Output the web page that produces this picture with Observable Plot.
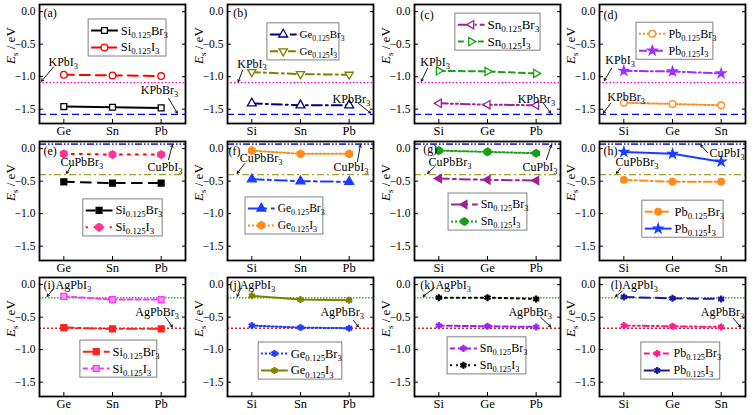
<!DOCTYPE html>
<html><head><meta charset="utf-8">
<script src="https://cdn.jsdelivr.net/npm/d3@7"></script>
<script src="https://cdn.jsdelivr.net/npm/@observablehq/plot@0.6"></script>
<style>
body{margin:0;background:#fff;}
#chart{position:relative;width:756px;height:415px;overflow:hidden;background:#fff;}
#chart svg{position:absolute;overflow:visible;font-family:"Liberation Serif","Times New Roman",serif !important;}
#chart svg text{font-family:"Liberation Serif","Times New Roman",serif !important;}
</style></head><body><div id="chart"></div>
<script>
// ---------- data ----------
const catsCol = [["Ge","Sn","Pb"],["Si","Sn","Pb"],["Si","Ge","Pb"],["Si","Ge","Sn"]];
const yTicks = [0, -0.5, -1.0, -1.5];
const refNames = [["KPbI_{3}","KPbBr_{3}"],["CuPbI_{3}","CuPbBr_{3}"],["AgPbI_{3}","AgPbBr_{3}"]];
const refValues = [[-1.09,-1.58],[0.07,-0.40],[-0.20,-0.67]];

const a_SiBr3 = [-1.46,-1.47,-1.48], a_SiI3 = [-0.97,-0.98,-0.99];
const b_GeBr3 = [-1.41,-1.44,-1.44], b_GeI3 = [-0.93,-0.96,-0.97];
const c_SnBr3 = [-1.41,-1.43,-1.44], c_SnI3 = [-0.91,-0.92,-0.95];
const d_PbBr3 = [-1.40,-1.42,-1.44], d_PbI3 = [-0.91,-0.92,-0.95];
const e_SiBr3 = [-0.51,-0.53,-0.53], e_SiI3 = [-0.08,-0.09,-0.09];
const f_GeBr3 = [-0.47,-0.50,-0.51], f_GeI3 = [-0.03,-0.08,-0.08];
const g_SnBr3 = [-0.46,-0.48,-0.49], g_SnI3 = [-0.03,-0.05,-0.07];
const h_PbBr3 = [-0.48,-0.51,-0.51], h_PbI3 = [-0.05,-0.08,-0.20];
const i_SiBr3 = [-0.66,-0.68,-0.68], i_SiI3 = [-0.18,-0.23,-0.23];
const j_GeBr3 = [-0.63,-0.66,-0.67], j_GeI3 = [-0.17,-0.23,-0.24];
const k_SnBr3 = [-0.63,-0.64,-0.65], k_SnI3 = [-0.20,-0.20,-0.22];
const l_PbBr3 = [-0.63,-0.64,-0.65], l_PbI3 = [-0.19,-0.21,-0.22];

// ---------- custom symbols ----------
const triDown = {draw(c, s){const r=Math.sqrt(s/Math.PI)*1.25; c.moveTo(-r,-r*0.6); c.lineTo(r,-r*0.6); c.lineTo(0,r*1.1); c.closePath();}};
const triLeft = {draw(c, s){const r=Math.sqrt(s/Math.PI)*1.25; c.moveTo(r*0.6,-r); c.lineTo(r*0.6,r); c.lineTo(-r*1.1,0); c.closePath();}};
const triRight = {draw(c, s){const r=Math.sqrt(s/Math.PI)*1.25; c.moveTo(-r*0.6,-r); c.lineTo(-r*0.6,r); c.lineTo(r*1.1,0); c.closePath();}};

// ---------- styles ----------
const refStyle = [
  [{stroke:"#FF00FF", dash:"1.5,2", w:1.3},{stroke:"#0000FF", dash:"7,4", w:1.3}],
  [{stroke:"#3535C8", dash:"7,2,1.5,2,1.5,2", w:1.6},{stroke:"#A0A030", dash:"7,3,2,3", w:1.4}],
  [{stroke:"#2DB82D", dash:"1.5,1.5", w:1.5},{stroke:"#D02020", dash:"2,2", w:1.4}]
];
const S = (name, values, c, dash, sym, fill, mc) => ({name, values, c, dash, sym, fill, mc: mc || c});
const panels = [
  {row:0,col:0,lab:"(a)",lx:-0.42,ly:-0.03,
   series:[S("Si_{0.125}Br_{3}",a_SiBr3,"#000000",null,"square","white"),S("Si_{0.125}I_{3}",a_SiI3,"#FF0000","10,6","circle","white")],
   legend:{x:0.51,y:-0.12,w:1.60,fs:12.5},
   ann:[{t:refNames[0][0],x:-0.315,y:-0.78,a:[-0.21,-0.85,-0.46,-1.07]},{t:refNames[0][1],x:1.58,y:-1.21,a:[2.15,-1.33,2.33,-1.56]}]},
  {row:0,col:1,lab:"(b)",lx:-0.38,ly:-0.03,
   series:[S("Ge_{0.125}Br_{3}",b_GeBr3,"#000080","10,4,2,4","triangle","white"),S("Ge_{0.125}I_{3}",b_GeI3,"#808000","8,4,2,4",triDown,"white")],
   legend:{x:0.32,y:-0.18,w:1.48,fs:11},
   ann:[{t:refNames[0][0],x:-0.30,y:-0.80,a:[-0.19,-0.90,-0.28,-1.08]},{t:refNames[0][1],x:1.66,y:-1.35,a:[2.19,-1.41,2.44,-1.56]}]},
  {row:0,col:2,lab:"(c)",lx:-0.38,ly:-0.06,
   series:[S("Sn_{0.125}Br_{3}",c_SnBr3,"#A0209A","9,3,2,3,2,3",triLeft,"white"),S("Sn_{0.125}I_{3}",c_SnI3,"#16A016","6,4",triRight,"white")],
   legend:{x:0.34,y:-0.03,w:1.75,fs:13},
   ann:[{t:refNames[0][0],x:-0.38,y:-0.78,a:[-0.23,-0.87,-0.36,-1.07]},{t:refNames[0][1],x:1.62,y:-1.34,a:[2.15,-1.41,2.30,-1.56]}]},
  {row:0,col:3,lab:"(d)",lx:-0.42,ly:-0.06,
   series:[S("Pb_{0.125}Br_{3}",d_PbBr3,"#FF8C1A","2,2","circle","white"),S("Pb_{0.125}I_{3}",d_PbI3,"#9B30FF","8,3,2,3","star","#9B30FF")],
   legend:{x:0.26,y:-0.17,w:1.58,fs:12},
   ann:[{t:refNames[0][0],x:-0.38,y:-0.75,a:[-0.25,-0.87,-0.40,-1.06]},{t:refNames[0][1],x:-0.34,y:-1.32,a:[-0.27,-1.41,-0.42,-1.56]}]},
  {row:1,col:0,lab:"(e)",lx:-0.42,ly:-0.04,
   series:[S("Si_{0.125}Br_{3}",e_SiBr3,"#000000","10,7","square","#000000"),S("Si_{0.125}I_{3}",e_SiI3,"#FF0000","2,6","hexagon","#FF3399","#FF3399")],
   legend:{x:0.40,y:-0.78,w:1.63,fs:12.5},
   ann:[{t:refNames[1][1],x:-0.07,y:-0.21,a:[0.14,-0.27,0.06,-0.38]},{t:refNames[1][0],x:1.72,y:-0.29,a:[2.15,-0.17,2.23,0.055]}]},
  {row:1,col:1,lab:"(f)",lx:-0.48,ly:-0.04,
   series:[S("Ge_{0.125}Br_{3}",f_GeBr3,"#1E3CFF","12,4,3,4","triangle","#1E3CFF"),S("Ge_{0.125}I_{3}",f_GeI3,"#FF8C1A","2,2","hexagon","#FF8C1A")],
   legend:{x:-0.13,y:-0.75,w:1.60,fs:11.5},
   ann:[{t:refNames[1][1],x:-0.25,y:-0.15,a:[-0.15,-0.23,-0.30,-0.38]},{t:refNames[1][0],x:1.68,y:-0.29,a:[2.17,-0.20,2.23,0.055]}]},
  {row:1,col:2,lab:"(g)",lx:-0.32,ly:-0.01,
   series:[S("Sn_{0.125}Br_{3}",g_SnBr3,"#A0209A","10,4,3,4",triLeft,"#A0209A"),S("Sn_{0.125}I_{3}",g_SnI3,"#16A016","2,2","hexagon","#16A016")],
   legend:{x:0.20,y:-0.69,w:1.62,fs:12},
   ann:[{t:refNames[1][1],x:-0.21,y:-0.215,a:[-0.09,-0.28,-0.23,-0.38]},{t:refNames[1][0],x:1.72,y:-0.29,a:[2.21,-0.17,2.31,0.055]}]},
  {row:1,col:3,lab:"(h)",lx:-0.42,ly:-0.04,
   series:[S("Pb_{0.125}Br_{3}",h_PbBr3,"#FF8C1A","8,3,2,3","circle","#FF8C1A"),S("Pb_{0.125}I_{3}",h_PbI3,"#1E3CFF",null,"star","#1E3CFF")],
   legend:{x:0.38,y:-0.80,w:1.67,fs:12.5},
   ann:[{t:refNames[1][1],x:-0.17,y:-0.21,a:[-0.07,-0.30,-0.15,-0.38]},{t:refNames[1][0],x:1.76,y:-0.075,a:[1.72,-0.06,1.58,0.055]}]},
  {row:2,col:0,lab:"(i)",lx:-0.42,ly:-0.015,
   series:[S("Si_{0.125}Br_{3}",i_SiBr3,"#FF2020","10,4,3,4","square","#FF2020"),S("Si_{0.125}I_{3}",i_SiI3,"#FF33FF","5,3","square","#FF99FF")],
   legend:{x:0.34,y:-0.86,w:1.58,fs:12.5},
   ann:[{t:refNames[2][0],x:-0.17,y:-0.015,a:[-0.23,-0.075,-0.34,-0.18]},{t:refNames[2][1],x:1.47,y:-0.43,a:[2.09,-0.50,2.23,-0.65]}]},
  {row:2,col:1,lab:"(j)",lx:-0.46,ly:-0.015,
   series:[S("Ge_{0.125}Br_{3}",j_GeBr3,"#1E3CFF","2,2","asterisk","none"),S("Ge_{0.125}I_{3}",j_GeI3,"#808000",null,"asterisk","none")],
   legend:{x:0.14,y:-0.89,w:1.72,fs:12.5},
   ann:[{t:refNames[2][0],x:-0.25,y:-0.015,a:[-0.23,-0.06,-0.30,-0.18]},{t:refNames[2][1],x:1.41,y:-0.43,a:[2.09,-0.55,2.19,-0.65]}]},
  {row:2,col:2,lab:"(k)",lx:-0.38,ly:-0.015,
   series:[S("Sn_{0.125}Br_{3}",k_SnBr3,"#A020F0","5,3","asterisk","none"),S("Sn_{0.125}I_{3}",k_SnI3,"#000000","2,4","asterisk","none")],
   legend:{x:0.18,y:-0.81,w:1.62,fs:12},
   ann:[{t:refNames[2][0],x:-0.07,y:-0.015,a:[-0.09,-0.045,-0.32,-0.18]},{t:refNames[2][1],x:1.43,y:-0.43,a:[2.09,-0.50,2.30,-0.65]}]},
  {row:2,col:3,lab:"(l)",lx:-0.27,ly:-0.015,
   series:[S("Pb_{0.125}Br_{3}",l_PbBr3,"#FF1A8C","6,3,2,3,2,3","asterisk","none"),S("Pb_{0.125}I_{3}",l_PbI3,"#1A1A99","10,6","asterisk","none")],
   legend:{x:0.36,y:-0.89,w:1.62,fs:12},
   ann:[{t:refNames[2][0],x:-0.03,y:-0.015,a:[-0.03,-0.10,-0.17,-0.18]},{t:refNames[2][1],x:1.58,y:-0.43,a:[2.25,-0.52,2.40,-0.65]}]}
];

// ---------- layout ----------
const frameLeft = [39, 227, 414, 599], frameTop = [4, 140.5, 277];
const FW = 146, FH = 119, ML = 44, MR = 14, MT = 6, MB = 18;
const FONT = "Liberation Serif, Times New Roman, serif";
const fmt = d => (d < 0 ? "\u2212" : "") + Math.abs(d).toFixed(1);

function richify(svg){
  svg.querySelectorAll("text").forEach(t => {
    const s = t.textContent;
    if (!/[_*]\{/.test(s)) return;
    t.textContent = "";
    const parts = s.split(/([_*]\{[^}]*\})/).filter(p => p);
    let shifted = false;
    for (const p of parts) {
      const ts = document.createElementNS("http://www.w3.org/2000/svg", "tspan");
      if (p.startsWith("_{")) {
        ts.textContent = p.slice(2, -1);
        ts.setAttribute("font-size", "70%");
        if (!shifted) { ts.setAttribute("dy", "0.35em"); shifted = true; }
      } else {
        if (p.startsWith("*{")) { ts.textContent = p.slice(2, -1); ts.setAttribute("font-style", "italic"); }
        else ts.textContent = p;
        if (shifted) { ts.setAttribute("dy", "-0.245em"); shifted = false; }
      }
      t.appendChild(ts);
    }
  });
}

const chart = document.getElementById("chart");
for (const p of panels) {
  const cats = catsCol[p.col];
  const marks = [];
  refValues[p.row].forEach((v, k) => {
    const st = refStyle[p.row][k];
    marks.push(Plot.ruleY([v], {stroke: st.stroke, strokeDasharray: st.dash, strokeWidth: st.w}));
  });
  const rOf = s => s.sym === "star" ? 2.9 : 3.3;
  const swOf = s => s.sym === "asterisk" ? 2.2 : 1.3;
  for (const s of p.series) {
    const rows = cats.map((c, i) => ({x: i, y: s.values[i]}));
    marks.push(Plot.line(rows, {x: "x", y: "y", stroke: s.c, strokeWidth: 2, strokeDasharray: s.dash || undefined}));
    marks.push(Plot.dot(rows, {x: "x", y: "y", symbol: s.sym, r: rOf(s), stroke: s.mc, strokeWidth: swOf(s), fill: s.fill}));
  }
  const L = p.legend;
  marks.push(Plot.rect([L], {x1: d => d.x, x2: d => d.x + d.w, y1: d => d.y, y2: d => d.y - 0.57, fill: "white", stroke: "#808080", strokeWidth: 1}));
  p.series.forEach((s, i) => {
    const ry = L.y - (i === 0 ? 0.17 : 0.43);
    const row = [{x1: L.x + 0.05, x2: L.x + 0.60, xm: L.x + 0.325, xt: L.x + 0.66, y: ry, name: s.name}];
    marks.push(Plot.link(row, {x1: "x1", x2: "x2", y1: "y", y2: "y", stroke: s.c, strokeWidth: 2, strokeDasharray: s.dash || undefined}));
    marks.push(Plot.dot(row, {x: "xm", y: "y", symbol: s.sym, r: rOf(s), stroke: s.mc, strokeWidth: swOf(s), fill: s.fill}));
    marks.push(Plot.text(row, {x: "xt", y: "y", text: "name", textAnchor: "start", fontSize: L.fs, fill: "black"}));
  });
  marks.push(Plot.arrow(p.ann, {x1: d => d.a[0], y1: d => d.a[1], x2: d => d.a[2], y2: d => d.a[3], stroke: "black", strokeWidth: 0.9, headLength: 4}));
  marks.push(Plot.text(p.ann, {x: "x", y: "y", text: "t", textAnchor: "start", fontSize: 12, fill: "black"}));
  marks.push(Plot.text([p], {x: "lx", y: "ly", text: "lab", textAnchor: "start", fontSize: 12, fill: "black"}));
  marks.push(Plot.axisY({anchor: "left", ticks: yTicks, tickSize: 0, tickPadding: 4, tickFormat: fmt, fontSize: 11.5, label: null}));
  marks.push(Plot.axisY({anchor: "left", ticks: yTicks, tickSize: -4, tickFormat: () => "", label: null}));
  marks.push(Plot.axisY({anchor: "right", ticks: yTicks, tickSize: -4, tickFormat: () => "", label: null}));
  marks.push(Plot.axisX({anchor: "bottom", ticks: [0, 1, 2], tickSize: 0, tickPadding: 3, tickFormat: i => cats[i], fontSize: 12.5, label: null}));
  marks.push(Plot.axisX({anchor: "bottom", ticks: [0, 1, 2], tickSize: -4, tickFormat: () => "", label: null}));
  marks.push(Plot.frame({stroke: "black", strokeWidth: 1.8}));
  marks.push(Plot.text([0], {frameAnchor: "left", text: () => "*{E}_{s} / eV", rotate: -90, dx: -29, fontSize: 13, fill: "black"}));

  const svg = Plot.plot({
    width: ML + FW + MR, height: MT + FH + MB,
    marginLeft: ML, marginRight: MR, marginTop: MT, marginBottom: MB,
    x: {domain: [-0.5, 2.5]},
    y: {domain: [-1.72, 0.11]},
    style: {fontFamily: FONT, background: "transparent", overflow: "visible", color: "black"},
    marks
  });
  svg.setAttribute("font-family", FONT);
  richify(svg);
  svg.style.left = (frameLeft[p.col] - ML) + "px";
  svg.style.top = (frameTop[p.row] - MT) + "px";
  chart.appendChild(svg);
}
</script></body></html>
